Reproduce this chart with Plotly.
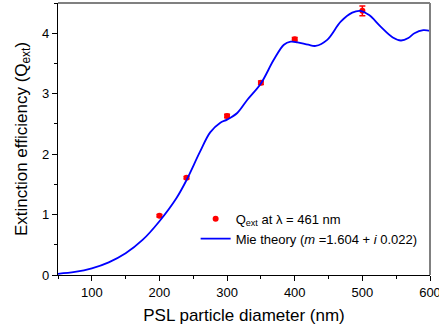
import plotly.graph_objects as go

# Mie theory curve
mie_x = [50, 75, 100, 125, 150, 175, 200, 225, 240, 260, 275, 290, 300, 315, 330, 350,
         369, 384, 394, 404, 420, 431, 448, 468, 485, 497, 510, 527, 545, 557, 568, 577, 590, 600]
mie_y = [0.02, 0.05, 0.11, 0.21, 0.36, 0.58, 0.89, 1.27, 1.57, 2.04, 2.36, 2.52, 2.57, 2.68, 2.90, 3.17,
         3.56, 3.81, 3.86, 3.85, 3.81, 3.79, 3.89, 4.19, 4.34, 4.37, 4.30, 4.11, 3.93, 3.88, 3.92, 4.00, 4.05, 4.04]

# Measured Q_ext
meas_x = [200, 240, 300, 350, 400, 500]
meas_y = [0.98, 1.61, 2.63, 3.18, 3.90, 4.37]
meas_err = [0.02, 0.02, 0.03, 0.03, 0.03, 0.08]

x_ticks = [100, 200, 300, 400, 500, 600]
y_ticks = [0, 1, 2, 3, 4]

FONT = "Liberation Sans, Arial, sans-serif"

fig = go.Figure()
fig.add_trace(go.Scatter(
    x=meas_x, y=meas_y, mode="markers",
    marker=dict(color="#ff0000", size=6),
    error_y=dict(type="data", array=meas_err, color="#ff0000", thickness=1.5, width=3),
    name="Q<sub>ext</sub> at λ = 461 nm",
))
fig.add_trace(go.Scatter(
    x=mie_x, y=mie_y, mode="lines", line=dict(color="#0000ff", width=1.8, shape="spline"),
    name="Mie theory (<i>m</i> =1.604 + <i>i</i> 0.022)",
))

fig.update_layout(
    width=439, height=329,
    margin=dict(l=58, r=9, t=3, b=54),
    paper_bgcolor="white", plot_bgcolor="white",
    font=dict(family=FONT, color="black", size=13),
    showlegend=True,
    legend=dict(x=0.37, y=0.262, xanchor="left", yanchor="top",
                bgcolor="rgba(0,0,0,0)", font=dict(size=13, family=FONT),
                tracegroupgap=0, itemwidth=30),
    xaxis=dict(range=[50, 600], tickvals=x_ticks, ticktext=[str(v) for v in x_ticks],
               ticks="outside", ticklen=5, tickwidth=1, tickcolor="black",
               minor=dict(dtick=50, tick0=0, ticks="outside", ticklen=3, tickcolor="black"),
               showline=True, linecolor="black", linewidth=1.2, showgrid=False, zeroline=False,
               automargin=False, ticklabeloverflow="allow",
               title=dict(text="PSL particle diameter (nm)", font=dict(size=17), standoff=10),
               tickfont=dict(size=13)),
    yaxis=dict(range=[0, 4.5], tickvals=y_ticks, ticktext=[str(v) for v in y_ticks],
               ticks="outside", ticklen=5, tickwidth=1, tickcolor="black",
               minor=dict(dtick=0.5, tick0=0, ticks="outside", ticklen=3, tickcolor="black"),
               showline=True, linecolor="black", linewidth=1.2, showgrid=False, zeroline=False,
               automargin=False, ticklabeloverflow="allow",
               title=dict(text="Extinction efficiency (Q<sub>ext</sub>)", font=dict(size=17), standoff=10),
               tickfont=dict(size=13)),
    shapes=[
        dict(type="line", xref="paper", yref="paper", x0=0, x1=1, y0=1, y1=1,
             line=dict(color="#808080", width=2)),
        dict(type="line", xref="paper", yref="paper", x0=1, x1=1, y0=0, y1=1,
             line=dict(color="#808080", width=2)),
    ],
)

fig.write_html("out.html", config={"displayModeBar": False},
               post_script="document.body.style.margin='0';")
